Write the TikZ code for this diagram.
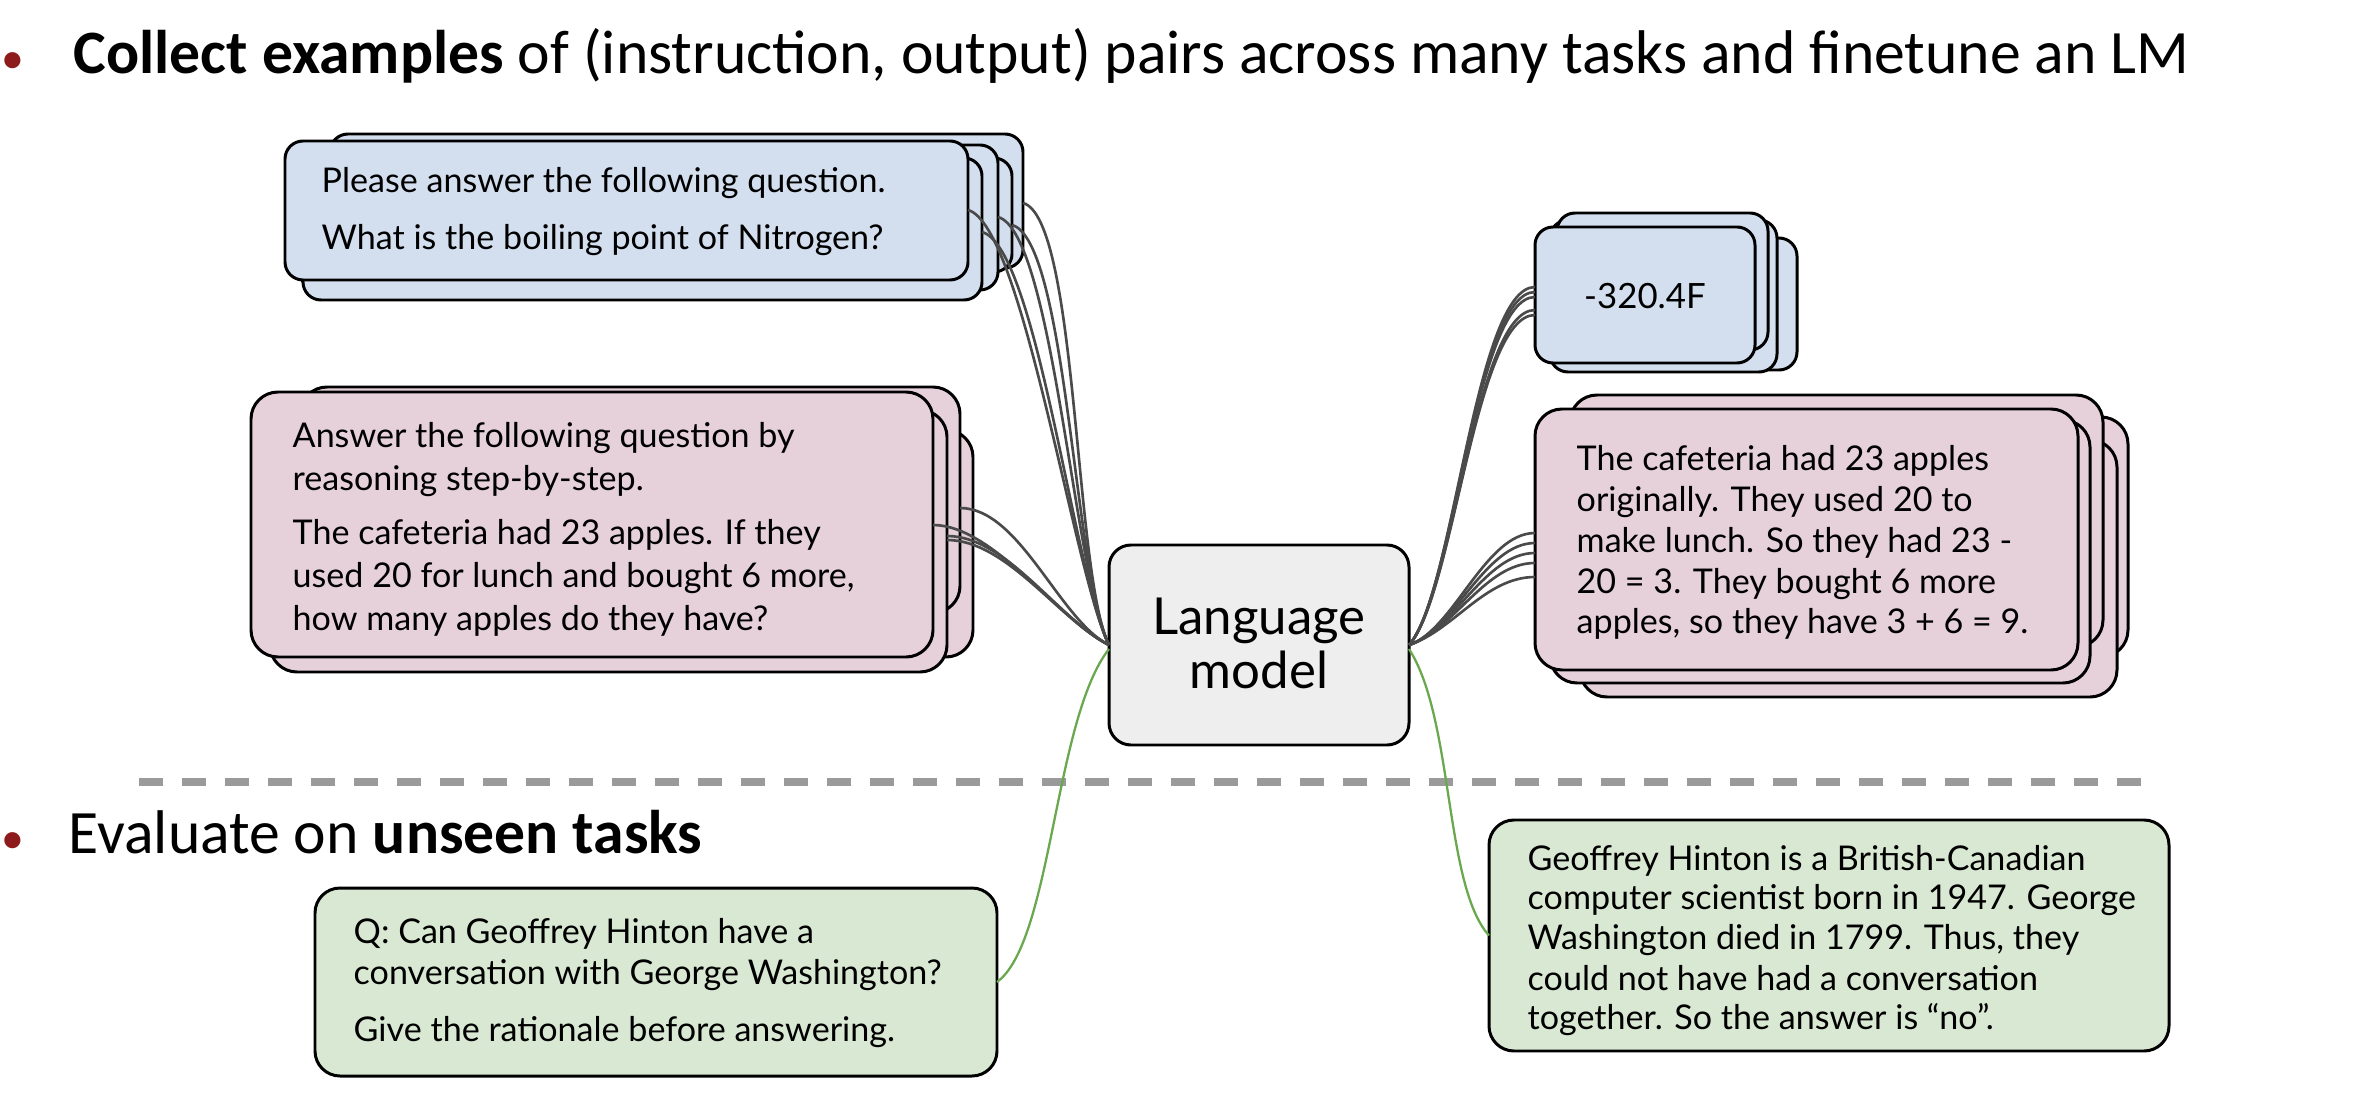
\documentclass[tikz,border=0pt]{standalone}
\usepackage{fontspec}
\setmainfont{Lato}
\newfontfamily\titlefont{Carlito}
\definecolor{bluefill}{HTML}{D3DFEF}
\definecolor{pinkfill}{HTML}{E6D1DB}
\definecolor{greenfill}{HTML}{D9E8D3}
\definecolor{lmfill}{HTML}{EEEEEE}
\definecolor{wiregray}{HTML}{4A4A4A}
\definecolor{wiregreen}{HTML}{6AA84F}
\definecolor{dashgray}{HTML}{9A9A9A}
\definecolor{bulletred}{HTML}{8E1B1B}
\tikzset{
  lay/.style={draw=black, line width=0.85pt, anchor=north west, inner sep=0pt, outer sep=0pt},
  bluebox/.style={lay, fill=bluefill, rounded corners=1.8mm},
  pinkbox/.style={lay, fill=pinkfill, rounded corners=2.7mm},
  greenbox/.style={lay, fill=greenfill, rounded corners=2.5mm},
  lmbox/.style={lay, fill=lmfill, rounded corners=2.2mm},
  txt/.style={anchor=base west, inner sep=0pt, font=\fontsize{9.7}{12}\selectfont},
  lmtxt/.style={anchor=base, inner sep=0pt, font=\fontsize{14.5}{16}\selectfont},
  ttl/.style={anchor=base west, inner sep=0pt, font=\titlefont\fontsize{17.55}{20}\selectfont},
  bul/.style={anchor=base west, inner sep=0pt, text=bulletred, font=\titlefont\fontsize{13}{14}\selectfont},
  wire/.style={draw=wiregray, line width=0.75pt},
  gwire/.style={draw=wiregreen, line width=0.65pt},
  dashline/.style={draw=dashgray, line width=2.5pt, dash pattern=on 2.4mm off 1.9mm}
}
\begin{document}
\begin{tikzpicture}[x=0.1mm, y=-0.1mm]
\path[fill=white] (0,0) rectangle (2376,1102);
\useasboundingbox (0,0) rectangle (2376,1102);

% titles
\node[bul] (b1) at (1,74) {•};
\node[ttl] (title1) at (73,74) {\textbf{Collect examples} of (instruction, output) pairs across many tasks and finetune an LM};
\node[bul] (b2) at (1,853) {•};
\node[ttl] (title2) at (68,853) {Evaluate on \textbf{unseen tasks}};

% separator
\coordinate (sepL) at (139,782);
\coordinate (sepR) at (2159,782);
\draw[dashline] (sepL) -- (sepR);

% top-left blue stack
\node[bluebox, minimum width=69.3mm, minimum height=13.4mm] (tlA) at (330,134) {};
\node[bluebox, minimum width=70.7mm, minimum height=11.4mm] (tlC) at (305,158) {};
\node[bluebox, minimum width=69.8mm, minimum height=14.5mm] (tlB) at (300,145) {};
\node[bluebox, minimum width=67.9mm, minimum height=14.2mm] (tlD) at (303,158) {};
\node[bluebox, minimum width=68.3mm, minimum height=13.9mm] (tlF) at (285,141) {};
\node[txt] (tl1) at (321,193) {Please answer the following question.};
\node[txt] (tl2) at (321,250) {What is the boiling point of Nitrogen?};

% left pink stack
\node[pinkbox, minimum width=67.3mm, minimum height=22.7mm] (plD) at (300,430) {};
\node[pinkbox, minimum width=66.0mm, minimum height=22.6mm] (plC) at (300,387) {};
\node[pinkbox, minimum width=67.7mm, minimum height=26.2mm] (plB) at (270,410) {};
\node[pinkbox, minimum width=68.2mm, minimum height=26.5mm] (plF) at (251,392) {};
\node[txt] (pl1) at (292,447) {Answer the following question by};
\node[txt] (pl2) at (292,490) {reasoning step-by-step.};
\node[txt] (pl3) at (292,544) {The cafeteria had 23 apples. If they};
\node[txt] (pl4) at (292,587) {used 20 for lunch and bought 6 more,};
\node[txt] (pl5) at (292,630) {how many apples do they have?};

% language model
\node[lmbox, minimum width=30mm, minimum height=20mm] (lm) at (1109,545) {};
\node[lmtxt] (lm1) at (1259,634) {Language};
\node[lmtxt] (lm2) at (1259,688) {model};

% right blue stack
\node[bluebox, minimum width=23.2mm, minimum height=13.2mm] (brD) at (1565,238) {};
\node[bluebox, minimum width=22.7mm, minimum height=15.2mm] (brC) at (1550,220) {};
\node[bluebox, minimum width=21.1mm, minimum height=13.7mm] (brB) at (1557,213) {};
\node[bluebox, minimum width=22.0mm, minimum height=13.6mm] (brF) at (1535,227) {};
\node[inner sep=0pt, font=\fontsize{9.9}{12}\selectfont] (br1) at (1645,296) {-320.4F};

% right pink stack
\node[pinkbox, minimum width=53.8mm, minimum height=24.0mm] (prE) at (1590,417) {};
\node[pinkbox, minimum width=53.7mm, minimum height=25.7mm] (prD) at (1580,440) {};
\node[pinkbox, minimum width=53.3mm, minimum height=25.2mm] (prC) at (1570,395) {};
\node[pinkbox, minimum width=54.0mm, minimum height=26.3mm] (prB) at (1550,420) {};
\node[pinkbox, minimum width=54.3mm, minimum height=26.1mm] (prF) at (1535,409) {};
\node[txt] (pr1) at (1576,470) {The cafeteria had 23 apples};
\node[txt] (pr2) at (1576,511) {originally. They used 20 to};
\node[txt] (pr3) at (1576,552) {make lunch. So they had 23 -};
\node[txt] (pr4) at (1576,593) {20 = 3. They bought 6 more};
\node[txt] (pr5) at (1576,633) {apples, so they have 3 + 6 = 9.};

% green boxes
\node[greenbox, minimum width=68.2mm, minimum height=18.8mm] (gl) at (315,888) {};
\node[txt] (gl1) at (353,943) {Q: Can Geoffrey Hinton have a};
\node[txt] (gl2) at (353,984) {conversation with George Washington?};
\node[txt] (gl3) at (353,1041) {Give the rationale before answering.};

\node[greenbox, minimum width=68.0mm, minimum height=23.1mm] (gr) at (1489,820) {};
\node[txt] (gr1) at (1527,870) {Geoffrey Hinton is a British-Canadian};
\node[txt] (gr2) at (1527,909) {computer scientist born in 1947. George};
\node[txt] (gr3) at (1527,949) {Washington died in 1799. Thus, they};
\node[txt] (gr4) at (1527,990) {could not have had a conversation};
\node[txt] (gr5) at (1527,1029) {together. So the answer is “no”.};

% wires: top-left blue -> LM
\foreach \n/\s in {tlF/-6.9mm, tlD/-7.4mm, tlB/-7.2mm, tlC/-6.7mm, tlA/-6.9mm}{
  \draw[wire] ([yshift=\s]\n.north east) .. controls +(55,15) and +(-35,-70) .. (lm.west);
}
% wires: left pink -> LM
\foreach \n/\s in {plC/-12.1mm, plF/-13.3mm, plB/-12.6mm, plB/-13.0mm}{
  \draw[wire] ([yshift=\s]\n.north east) .. controls +(60,0) and +(-50,-25) .. (lm.west);
}
% wires: LM -> right blue
\foreach \s in {-6.0mm, -6.5mm, -7.0mm, -8.3mm, -8.8mm}{
  \draw[wire] (lm.east) .. controls +(45,-50) and +(-60,0) .. ([yshift=\s]brF.north west);
}
% wires: LM -> right pink
\foreach \s in {-12.4mm, -13.4mm, -14.4mm, -15.4mm, -16.8mm}{
  \draw[wire] (lm.east) .. controls +(45,-15) and +(-50,0) .. ([yshift=\s]prF.north west);
}
% green wires
\draw[gwire] ([yshift=-0.4mm]lm.west) .. controls +(-55,70) and +(55,-40) .. (gl.east);
\draw[gwire] ([yshift=-0.4mm]lm.east) .. controls +(45,70) and +(-45,-50) .. (gr.west);
\end{tikzpicture}
\end{document}
